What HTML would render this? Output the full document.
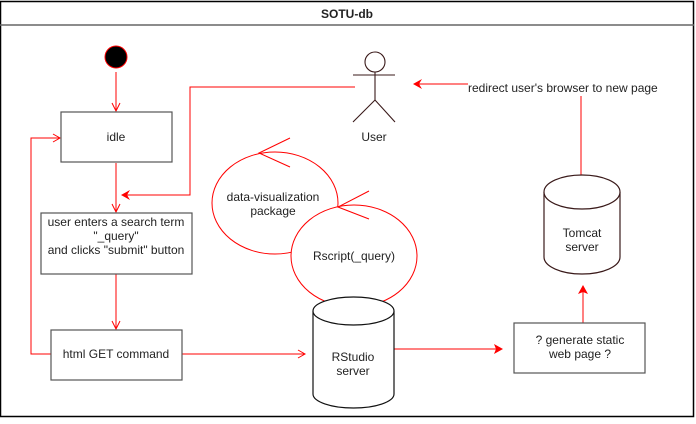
<!DOCTYPE html>
<html><head><style>
html,body{margin:0;padding:0;background:#fff;}
svg text{font-family:"Liberation Sans",sans-serif;font-size:12px;fill:#222;}
</style></head><body>
<svg width="696" height="419" xmlns="http://www.w3.org/2000/svg">
<rect x="0.5" y="1.5" width="693" height="415" fill="#fff" stroke="#000" stroke-width="1.5"/>
<line x1="0" y1="25" x2="694" y2="25" stroke="#666" stroke-width="1.5"/>
<text x="347" y="18" text-anchor="middle" style="font-weight:bold;font-size:12px">SOTU-db</text>

<circle cx="116" cy="57" r="11" fill="#000" stroke="#f00"/>
<g stroke="#f00" fill="none">
<line x1="116" y1="72" x2="116" y2="111"/>
<polyline points="112,103 116,111 120,103"/>
<line x1="116" y1="163" x2="116" y2="212"/>
<polyline points="112,204 116,212 120,204"/>
<line x1="116" y1="274" x2="116" y2="329"/>
<polyline points="112,321 116,329 120,321"/>
<polyline points="51,354 31,354 31,138 60,138"/>
<polyline points="53,134 60,138 53,142"/>
<polyline points="355,87 190,87 190,195 123,195"/>
<line x1="182" y1="354" x2="305" y2="354"/>
<polyline points="298,350 305,354 298,358"/>
<line x1="394" y1="349" x2="496" y2="349"/>
<line x1="468" y1="84" x2="418" y2="84"/>
<line x1="581" y1="96" x2="581" y2="175"/>
<line x1="583" y1="323" x2="583" y2="292"/>
<ellipse cx="275" cy="203" rx="63" ry="51" fill="#fff"/>
<ellipse cx="354" cy="256" rx="63" ry="51" fill="#fff"/>
<polyline points="290,138 259,153 290,167"/>
<polyline points="369,191 338,207 369,219"/>
</g>
<g fill="#f00">
<polygon points="121,195 130,190 127,195 130,200"/>
<polygon points="503,349 494,344 496,349 494,354"/>
<polygon points="413,84 422,79 419,84 422,89"/>
<polygon points="583,285 578,294 583,292 588,294"/>
</g>

<g fill="#fff" stroke="#555" stroke-width="1.2">
<rect x="61" y="112" width="111" height="50"/>
<rect x="41" y="213" width="151" height="61"/>
<rect x="51" y="330" width="131" height="50"/>
<rect x="514" y="323" width="131" height="50"/>
</g>
<text x="116" y="141" text-anchor="middle">idle</text>
<text x="116" y="226" text-anchor="middle">user enters a search term</text>
<text x="116" y="240" text-anchor="middle">"_query"</text>
<text x="116" y="254" text-anchor="middle">and clicks "submit" button</text>
<text x="116" y="358" text-anchor="middle">html GET command</text>
<text x="580" y="344" text-anchor="middle">? generate static</text>
<text x="580" y="358" text-anchor="middle">web page ?</text>

<text x="273" y="201" text-anchor="middle">data-visualization</text>
<text x="273" y="215" text-anchor="middle">package</text>
<text x="354" y="260" text-anchor="middle">Rscript(_query)</text>

<g stroke="#111" stroke-width="1.2" fill="#fff">
<path d="M313,311 L313,394 A40.5,14 0 0 0 394,394 L394,311"/>
<ellipse cx="353.5" cy="311" rx="40.5" ry="14"/>
</g>
<text x="353" y="361" text-anchor="middle">RStudio</text>
<text x="353" y="375" text-anchor="middle">server</text>

<g stroke="#3a1a1a" stroke-width="1.2" fill="#fff">
<path d="M544,192 L544,257 A38,17 0 0 0 620,257 L620,192"/>
<ellipse cx="582" cy="192" rx="38" ry="17"/>
</g>
<text x="582" y="237" text-anchor="middle">Tomcat</text>
<text x="582" y="251" text-anchor="middle">server</text>

<g stroke="#3a1a1a" stroke-width="1.1" fill="none">
<circle cx="375" cy="62" r="10" fill="#fff"/>
<line x1="375" y1="72" x2="375" y2="100"/>
<line x1="353" y1="75" x2="395" y2="75"/>
<polyline points="353,122 375,100 395,122"/>
</g>
<text x="374" y="141" text-anchor="middle">User</text>

<text x="468" y="92">redirect user's browser to new page</text>
</svg>
</body></html>
